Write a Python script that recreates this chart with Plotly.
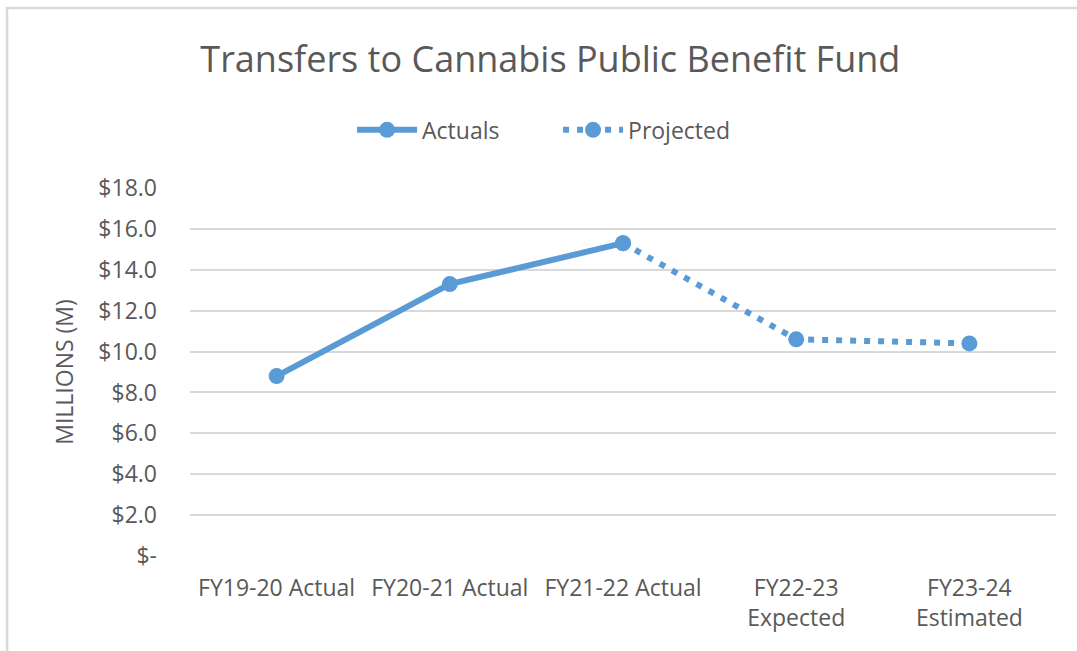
import plotly.graph_objects as go

# data
categories = ["FY19-20 Actual", "FY20-21 Actual", "FY21-22 Actual",
              "FY22-23<br>Expected", "FY23-24<br>Estimated"]
actuals = [8.8, 13.3, 15.3, None, None]
projected = [None, None, 15.3, 10.6, 10.4]
y_ticks = [0, 2, 4, 6, 8, 10, 12, 14, 16, 18]
y_tick_labels = ["$-", "$2.0", "$4.0", "$6.0", "$8.0", "$10.0",
                 "$12.0", "$14.0", "$16.0", "$18.0"]

blue = "#5B9BD5"
grey_text = "#595959"
font_family = "'Open Sans', Lato, sans-serif"

fig = go.Figure()

fig.add_trace(go.Scatter(
    x=categories, y=actuals, name="Actuals", mode="lines+markers",
    line=dict(color=blue, width=6),
    marker=dict(color=blue, size=16),
))
fig.add_trace(go.Scatter(
    x=categories, y=projected, name="Projected", mode="lines+markers",
    line=dict(color=blue, width=6, dash="6px,8px"),
    marker=dict(color=blue, size=16),
))

fig.update_layout(
    width=1077, height=651,
    paper_bgcolor="white", plot_bgcolor="white",
    margin=dict(l=190, r=21, t=188, b=95),
    font=dict(family=font_family, color=grey_text, size=23),
    title=dict(
        text="Transfers to Cannabis Public Benefit Fund",
        font=dict(size=36, color=grey_text),
        xref="container", x=0.511, xanchor="center",
        yref="container", y=0.908, yanchor="middle",
    ),
    legend=dict(
        orientation="h", x=0.425, xanchor="center", y=1.158, yanchor="middle",
        font=dict(size=23, color=grey_text), itemwidth=60,
        entrywidth=131, entrywidthmode="pixels",
    ),
    showlegend=True,
    xaxis=dict(
        type="category", range=[-0.5, 4.5], showgrid=False, zeroline=False,
        showline=False, ticks="", tickfont=dict(size=23, color=grey_text),
        ticklabelstandoff=16,
    ),
    yaxis=dict(
        range=[0, 18], tickvals=y_ticks, ticktext=y_tick_labels,
        showgrid=True, gridcolor="#D9D9D9", gridwidth=2,
        zeroline=False, showline=False, ticks="",
        tickfont=dict(size=23, color=grey_text), ticklabelstandoff=32,
        title=dict(text="MILLIONS (M)", font=dict(size=23, color=grey_text),
                   standoff=18),
    ),
    shapes=[dict(
        type="rect", xref="paper", yref="paper",
        x0=-0.2113, x1=1.03, y0=-0.28, y1=1.489,
        line=dict(color="#D9D9D9", width=2.5), fillcolor="rgba(0,0,0,0)",
        layer="below",
    )],
)

# page body has an 8px default margin; drop it so the figure sits at 0,0
fig.write_html("out.html", config={"displayModeBar": False},
               post_script="document.body.style.margin='0px';")
